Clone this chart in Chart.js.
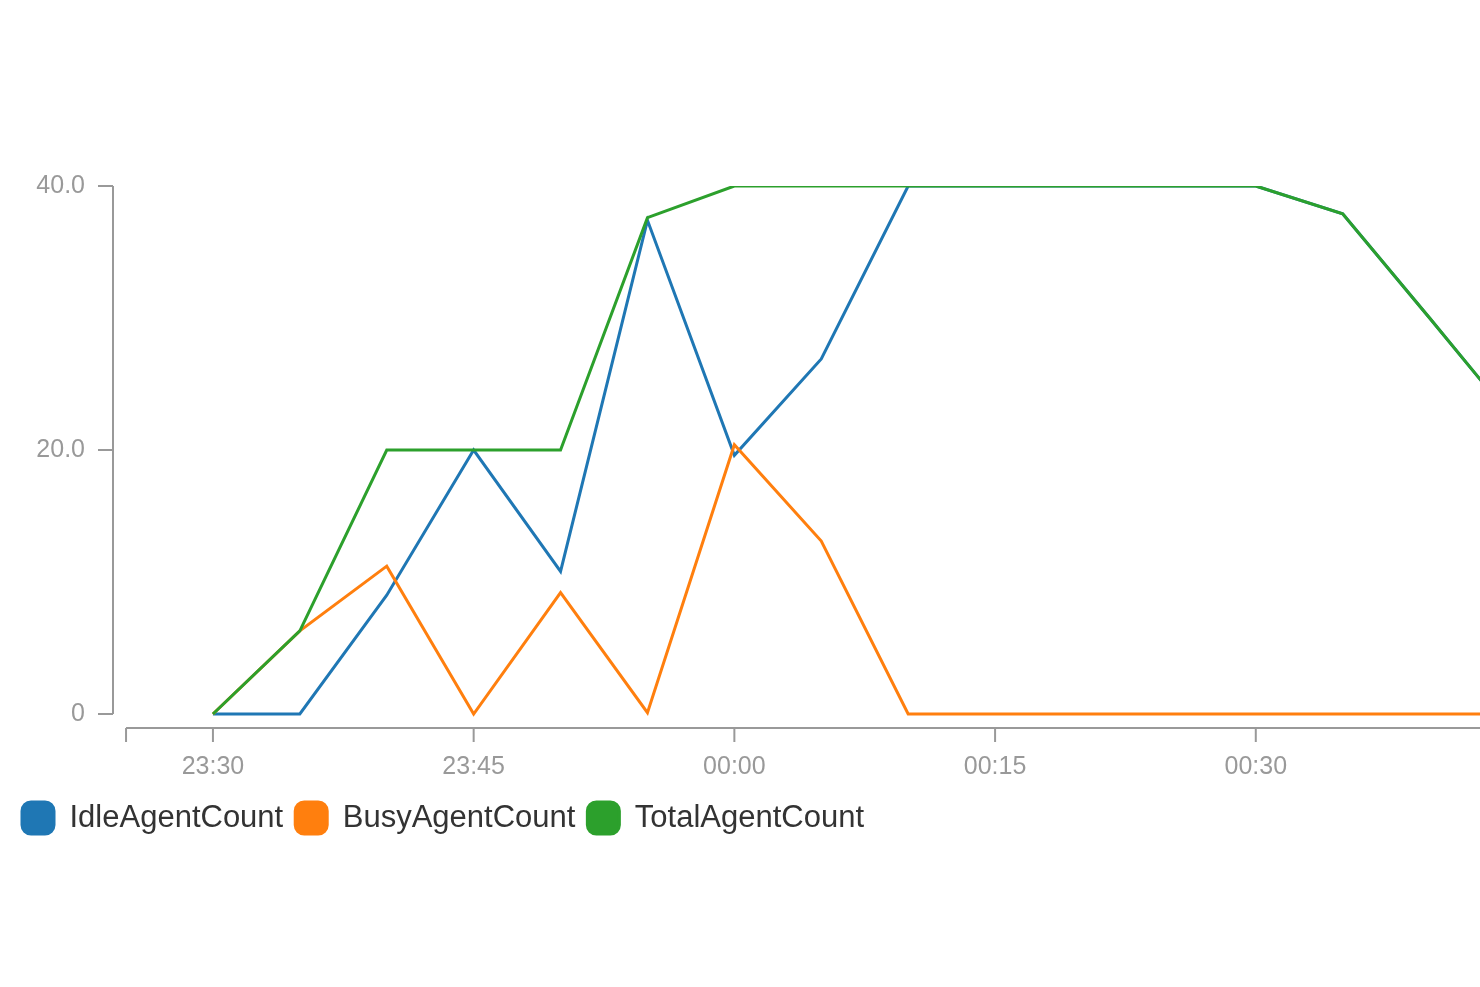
<!DOCTYPE html>
<html><head><meta charset="utf-8">
<script src="https://cdn.jsdelivr.net/npm/chart.js@4"></script>
<style>html,body{margin:0;padding:0;background:#fff}#w{width:1480px;height:987px}</style>
</head><body><div id="w"><canvas id="c"></canvas></div>
<script>
// minutes after 23:30
const minutes = [0,5,10,15,20,25,30,35,40,45,50,55,60,65,70,75];
const idle  = [0,0,9,20,10.8,37.4,19.6,26.9,40,40,40,40,40,37.9,30,22];
const busy  = [0,6.3,11.2,0,9.2,0.1,20.4,13.1,0,0,0,0,0,0,0,0];
const total = [0,6.3,20,20,20,37.6,40,40,40,40,40,40,40,37.9,30,22];
const xTickValues = [0,15,30,45,60];
const xTickLabels = ['23:30','23:45','00:00','00:15','00:30'];
const yTickValues = [0,20,40];
const yTickLabels = ['0','20.0','40.0'];
const seriesNames = ['IdleAgentCount','BusyAgentCount','TotalAgentCount'];
const colors = ['#1f77b4','#ff7f0e','#2ca02c'];

const pts = a => a.map((v,i)=>({x:minutes[i],y:v}));
const axisColor = '#999';
const axesPlugin = {
  id:'axes',
  afterDraw(ch){
    const c=ch.ctx, xs=ch.scales.x, ys=ch.scales.y;
    c.save(); c.strokeStyle=axisColor; c.lineWidth=2;
    const yx=ys.right, y0=ys.getPixelForValue(0), y40=ys.getPixelForValue(40);
    c.beginPath(); c.moveTo(yx,y40); c.lineTo(yx,y0); c.stroke();
    yTickValues.forEach(v=>{const p=ys.getPixelForValue(v);c.beginPath();c.moveTo(yx-15,p);c.lineTo(yx,p);c.stroke();});
    const xy=ch.chartArea.bottom, x0=xs.getPixelForValue(-5);
    c.beginPath(); c.moveTo(x0,xy); c.lineTo(xs.right,xy); c.stroke();
    c.beginPath(); c.moveTo(x0,xy); c.lineTo(x0,xy+14); c.stroke();
    xTickValues.forEach(v=>{const p=xs.getPixelForValue(v);c.beginPath();c.moveTo(p,xy);c.lineTo(p,xy+14);c.stroke();});
    c.restore();
  }
};
new Chart(document.getElementById('c'),{
  type:'line',
  data:{datasets:[
    {label:seriesNames[0],data:pts(idle),borderColor:colors[0],backgroundColor:colors[0],order:2},
    {label:seriesNames[1],data:pts(busy),borderColor:colors[1],backgroundColor:colors[1],order:1},
    {label:seriesNames[2],data:pts(total),borderColor:colors[2],backgroundColor:colors[2],order:0}
  ]},
  options:{
    responsive:true,maintainAspectRatio:false,animation:false,
    elements:{point:{radius:0},line:{borderWidth:3,tension:0}},
    layout:{padding:{top:186,bottom:143,left:10,right:0}},
    scales:{
      x:{type:'linear',min:-5.75,max:72.9,
        afterFit(s){s.height=62;},
        afterBuildTicks(s){s.ticks=xTickValues.map(v=>({value:v}));},
        grid:{display:false},border:{display:false},
        ticks:{color:'#999',font:{family:'Liberation Sans',size:25},padding:16,maxRotation:0,
          callback:(v)=>xTickLabels[xTickValues.indexOf(v)]}},
      y:{min:-1.06,max:40,
        afterFit(s){s.width=103;},
        afterBuildTicks(s){s.ticks=yTickValues.map(v=>({value:v}));},
        grid:{display:false},border:{display:false},
        ticks:{color:'#999',font:{family:'Liberation Sans',size:25},padding:20,
          callback:(v)=>yTickLabels[yTickValues.indexOf(v)]}}
    },
    plugins:{
      tooltip:{enabled:false},
      legend:{position:'bottom',align:'start',
        labels:{boxWidth:32,boxHeight:32,useBorderRadius:true,borderRadius:9,padding:12,
          sort:(a,b)=>a.datasetIndex-b.datasetIndex,
          color:'#333',font:{family:'Liberation Sans',size:31}}}
    }
  },
  plugins:[axesPlugin]
});
</script></body></html>
